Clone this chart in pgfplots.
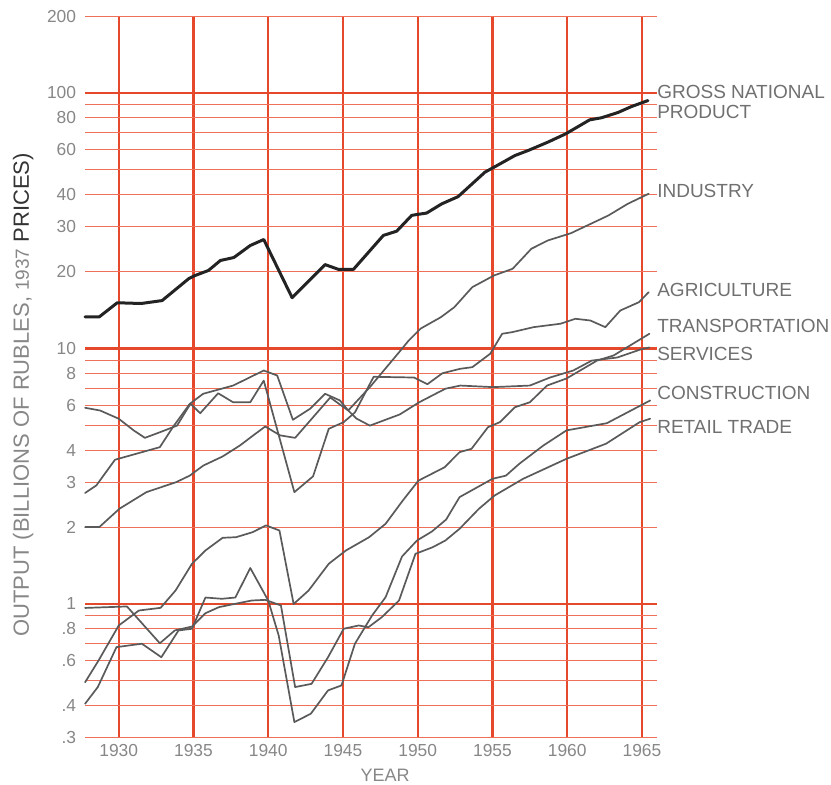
\documentclass[border=0pt]{standalone}
\usepackage{pgfplots}
\pgfplotsset{compat=1.18}
\usepackage{fontspec}
\setmainfont{Liberation Sans}
\definecolor{gridred}{RGB}{230,72,44}
\definecolor{gridthin}{RGB}{238,112,88}
\definecolor{ticktxt}{RGB}{135,135,135}
\definecolor{labtxt}{RGB}{112,112,112}
\definecolor{series}{RGB}{90,90,90}
\definecolor{gnp}{RGB}{35,35,35}
\begin{document}
\begin{tikzpicture}
\begin{axis}[
  at={(0,0)}, anchor=south west,
  scale only axis, width=285.9pt, height=360.75pt,
  ymode=log, ymin=0.3, ymax=200,
  xmin=1927.75, xmax=1966,
  axis line style={draw=none},
  major tick length=0pt, minor tick length=0pt,
  xtick={1930,1935,1940,1945,1950,1955,1960,1965},
  xticklabels={1930,1935,1940,1945,1950,1955,1960,1965},
  ytick={0.3,0.4,0.5,0.6,0.7,0.8,0.9,1,2,3,4,5,6,7,8,9,10,20,30,40,50,60,70,80,90,100,200},
  yticklabels={.3,.4,,.6,,.8,,1,2,3,4,,6,,8,,10,20,30,40,,60,,80,,100,200},
  xmajorgrids, ymajorgrids,
  x grid style={gridred, line width=1.15pt},
  y grid style={gridthin, line width=0.5pt},
  tick label style={font=\fontsize{8.7}{10}\selectfont, text=ticktxt},
  yticklabel style={xshift=-1pt},
  xlabel={YEAR},
  xlabel style={at={(axis description cs:0.5245,-0.052)}, anchor=center, font=\fontsize{9}{10}\selectfont, text=ticktxt},
  ylabel={OUTPUT (BILLIONS OF RUBLES, {\fontsize{9.5}{10}\selectfont 1937} {\color{black!80}PRICES)}},
  ylabel style={at={(axis description cs:-0.1084,0.475)}, anchor=center, font=\fontsize{11}{12}\selectfont, text=ticktxt},
  clip=false,
  every axis plot/.append style={line join=round, line cap=round},
]
% heavier rules at 1, 10 and 100
\draw[gridred, line width=1.25pt] (axis cs:1927.75,1) -- (axis cs:1966,1);
\draw[gridred, line width=1.25pt] (axis cs:1927.75,10) -- (axis cs:1966,10);
\draw[gridred, line width=1.25pt] (axis cs:1927.75,100) -- (axis cs:1966,100);
% Gross national product
\addplot[gnp, line width=1.5pt] coordinates {
(1927.75,13.3) (1928.7,13.3) (1929.9,15.1) (1931.5,15.0) (1932.9,15.4) (1934.7,18.8) (1935.1,19.3) (1936.0,20.2) (1936.8,22.1) (1937.7,22.7) (1938.8,25.3) (1939.7,26.7) (1941.6,15.8) (1943.8,21.3) (1944.7,20.4) (1945.7,20.4) (1947.7,27.7) (1948.6,28.8) (1949.6,33.2) (1950.6,33.9) (1951.6,36.8) (1952.7,39.3) (1954.5,49.0) (1955.2,51.6) (1956.5,56.9) (1957.4,59.6) (1958.7,64.2) (1959.9,69.2) (1961.5,78.5) (1962.3,80.0) (1963.4,83.9) (1964.3,88.5) (1965.4,93.4)
};
% Industry
\addplot[series, line width=0.85pt] coordinates {
(1927.75,2.72) (1928.5,2.91) (1929.75,3.67) (1932.75,4.11) (1933.65,4.95) (1934.75,6.07) (1935.65,6.65) (1937.65,7.16) (1939.7,8.20) (1940.6,7.84) (1941.65,5.26) (1942.8,5.81) (1943.8,6.65) (1944.8,6.26) (1945.35,5.72) (1946.8,7.06) (1948.85,9.82) (1949.4,10.75) (1950.2,11.97) (1951.55,13.26) (1952.45,14.51) (1953.65,17.38) (1955.1,19.31) (1956.35,20.51) (1957.6,24.56) (1958.7,26.47) (1960.25,28.27) (1962.75,33.15) (1964.05,36.84) (1965.45,40.33)
};
% Agriculture
\addplot[series, line width=0.85pt] coordinates {
(1927.75,5.86) (1928.75,5.72) (1930.0,5.31) (1931.0,4.78) (1931.75,4.47) (1932.75,4.70) (1933.9,4.99) (1934.8,6.08) (1935.45,5.58) (1936.65,6.68) (1937.65,6.16) (1938.8,6.16) (1939.7,7.49) (1941.75,2.74) (1943.0,3.16) (1944.05,4.85) (1945.05,5.15) (1945.8,5.62) (1947.05,7.75) (1949.75,7.7) (1950.65,7.25) (1951.65,8.0) (1952.85,8.33) (1953.65,8.45) (1954.85,9.54) (1955.65,11.42) (1956.3,11.58) (1957.75,12.12) (1959.55,12.50) (1960.55,13.07) (1961.55,12.87) (1962.55,12.12) (1963.55,14.08) (1964.8,15.18) (1965.45,16.61)
};
% Transportation
\addplot[series, line width=0.85pt] coordinates {
(1927.75,0.494) (1928.65,0.601) (1930.0,0.824) (1931.35,0.943) (1932.8,0.966) (1933.8,1.129) (1934.9,1.437) (1935.8,1.62) (1936.95,1.816) (1937.85,1.826) (1938.95,1.91) (1939.85,2.03) (1940.75,1.94) (1941.7,1.00) (1942.7,1.129) (1944.05,1.437) (1945.2,1.62) (1946.75,1.826) (1947.85,2.06) (1949.0,2.54) (1950.05,3.04) (1951.8,3.43) (1952.8,3.93) (1953.6,4.05) (1954.7,4.92) (1955.5,5.15) (1956.5,5.89) (1957.5,6.16) (1958.65,7.16) (1959.95,7.63) (1962.0,8.97) (1963.1,9.39) (1965.5,11.42)
};
% Services
\addplot[series, line width=0.85pt] coordinates {
(1927.75,2.00) (1928.7,2.00) (1930.05,2.36) (1931.85,2.74) (1933.85,3.00) (1934.75,3.18) (1935.65,3.48) (1936.95,3.78) (1938.1,4.17) (1939.0,4.57) (1939.8,4.95) (1940.8,4.57) (1941.8,4.47) (1944.15,6.43) (1945.35,5.72) (1945.9,5.32) (1946.8,4.99) (1948.8,5.52) (1950.1,6.16) (1951.85,6.96) (1952.85,7.16) (1955.05,7.06) (1957.5,7.16) (1958.85,7.70) (1960.4,8.20) (1961.65,8.97) (1963.35,9.22) (1964.9,9.91) (1965.5,10.09)
};
% Construction
\addplot[series, line width=0.85pt] coordinates {
(1927.75,0.407) (1928.6,0.473) (1929.85,0.678) (1931.55,0.699) (1932.85,0.619) (1934.0,0.788) (1934.9,0.800) (1935.8,1.06) (1936.9,1.048) (1937.8,1.06) (1938.8,1.383) (1940.0,1.032) (1940.7,0.753) (1941.75,0.345) (1942.85,0.372) (1944.0,0.459) (1944.9,0.480) (1945.8,0.699) (1946.95,0.902) (1947.85,1.063) (1948.95,1.534) (1949.95,1.772) (1950.95,1.922) (1951.9,2.14) (1952.8,2.62) (1955.0,3.09) (1955.9,3.18) (1956.8,3.54) (1958.4,4.17) (1959.95,4.78) (1962.65,5.10) (1965.55,6.26)
};
% Retail trade
\addplot[series, line width=0.85pt] coordinates {
(1927.75,0.965) (1930.55,0.978) (1932.75,0.702) (1933.75,0.788) (1934.9,0.816) (1935.8,0.920) (1936.7,0.972) (1937.8,1.002) (1938.9,1.032) (1939.8,1.038) (1940.85,0.987) (1941.8,0.473) (1942.9,0.487) (1944.0,0.619) (1945.05,0.800) (1946.05,0.824) (1946.7,0.811) (1947.6,0.888) (1948.75,1.032) (1949.85,1.572) (1951.0,1.668) (1951.85,1.772) (1952.8,1.97) (1954.1,2.36) (1955.15,2.66) (1957.05,3.09) (1959.95,3.70) (1962.6,4.24) (1964.85,5.15) (1965.55,5.31)
};
\begin{scope}[every node/.style={anchor=west, inner sep=0pt, font=\fontsize{9.5}{10}\selectfont, text=labtxt, align=left}]
\node at (axis cs:1966,91.9) {GROSS NATIONAL\\[0pt]PRODUCT};
\node at (axis cs:1966,41.2) {INDUSTRY};
\node at (axis cs:1966,17.0) {AGRICULTURE};
\node at (axis cs:1966,12.2) {TRANSPORTATION};
\node at (axis cs:1966,9.56) {SERVICES};
\node at (axis cs:1966,6.67) {CONSTRUCTION};
\node at (axis cs:1966,4.95) {RETAIL TRADE};
\end{scope}
\end{axis}
\pgfresetboundingbox
\path[use as bounding box] (-42.55pt,-23.7pt) rectangle (372.95pt,368.8pt);
\end{tikzpicture}
\end{document}
